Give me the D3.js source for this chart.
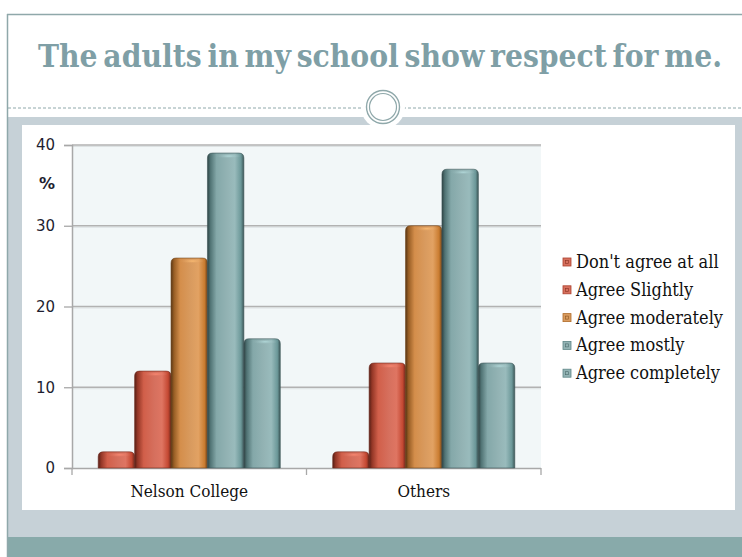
<!DOCTYPE html>
<html><head><meta charset="utf-8">
<script src="https://cdn.jsdelivr.net/npm/d3@7"></script>
<style>html,body{margin:0;padding:0;background:#fff;}svg{display:block;}</style>
</head><body>
<script>
const title = "The adults in my school show respect for me.";
const categories = ["Nelson College", "Others"];
const seriesNames = ["Don't agree at all", "Agree Slightly", "Agree moderately", "Agree mostly", "Agree completely"];
const nelsonValues = [2, 12, 26, 39, 16];
const othersValues = [2, 13, 30, 37, 13];
const yTicks = [0, 10, 20, 30, 40];
const yUnit = "%";
const seriesColors = ["#d6705e", "#d6705e", "#d99b5f", "#93b3b4", "#93b3b4"];

const W = 742, H = 557;
const svg = d3.select("body").append("svg").attr("width", W).attr("height", H);
const defs = svg.append("defs");
const serif = "'DejaVu Serif Condensed', 'DejaVu Serif', serif";

// ---- slide frame ----
const frameCol = "#8fa8aa";
svg.append("rect").attr("x",0).attr("y",0).attr("width",W).attr("height",H).attr("fill","#fff");
svg.append("rect").attr("x",8).attr("y",117).attr("width",W-8).attr("height",420).attr("fill","#c6d1d7");
svg.append("rect").attr("x",8).attr("y",537).attr("width",W-8).attr("height",20).attr("fill","#88aaaa");
svg.append("rect").attr("x",22).attr("y",125).attr("width",713).attr("height",385).attr("fill","#fff");
svg.append("line").attr("x1",7).attr("x2",W).attr("y1",14.5).attr("y2",14.5).attr("stroke",frameCol).attr("stroke-width",1.5);
svg.append("line").attr("x1",7.5).attr("x2",7.5).attr("y1",14).attr("y2",H).attr("stroke",frameCol).attr("stroke-width",1.5);
svg.append("line").attr("x1",8).attr("x2",W).attr("y1",108).attr("y2",108)
  .attr("stroke",frameCol).attr("stroke-width",1).attr("stroke-dasharray","3,2");
// ornament circle
svg.append("circle").attr("cx",383).attr("cy",107).attr("r",22).attr("fill","#fff");
svg.append("circle").attr("cx",383).attr("cy",107).attr("r",16.5).attr("fill","none").attr("stroke",frameCol).attr("stroke-width",1.4);
svg.append("circle").attr("cx",383).attr("cy",107).attr("r",13.5).attr("fill","none").attr("stroke",frameCol).attr("stroke-width",1.2);

// title
svg.append("text").attr("x",380).attr("y",67).attr("text-anchor","middle")
  .attr("font-family",serif).attr("font-weight","bold").attr("font-size",31)
  .attr("word-spacing",-4)
  .attr("fill","#7f9fa6").attr("textLength",684).attr("lengthAdjust","spacingAndGlyphs")
  .text(title);

// ---- chart ----
const plot = {left:72, right:541, top:145, bottom:468};
const y = d3.scaleLinear().domain([0,40]).range([plot.bottom, plot.top]);
const x0 = d3.scaleBand().domain(categories).range([plot.left, plot.right]).padding(0);
const x1 = d3.scaleBand().domain(seriesNames).range([0, x0.bandwidth()]).paddingInner(0).paddingOuter(0.72);

svg.append("rect").attr("x",plot.left).attr("y",plot.top).attr("width",plot.right-plot.left)
  .attr("height",plot.bottom-plot.top).attr("fill","#f2f7f8");

// gridlines
yTicks.filter(t=>t>0).forEach(t=>{
  svg.append("line").attr("x1",plot.left).attr("x2",plot.right).attr("y1",y(t)+1.5).attr("y2",y(t)+1.5)
    .attr("stroke","#dde2e3").attr("stroke-width",1);
  svg.append("line").attr("x1",plot.left).attr("x2",plot.right).attr("y1",y(t)).attr("y2",y(t))
    .attr("stroke","#b2b2b2").attr("stroke-width",1.3);
});

// axes
const yAxis = d3.axisLeft(y).tickValues(yTicks).tickSize(8).tickPadding(9);
const gy = svg.append("g").attr("transform",`translate(${plot.left},0)`).call(yAxis);
gy.select(".domain").attr("stroke","#a8a8a8").attr("stroke-width",1.5);
gy.selectAll(".tick line").attr("stroke","#a8a8a8").attr("stroke-width",1.3);
gy.selectAll(".tick text").attr("font-family","DejaVu Sans").attr("font-size",15).attr("fill","#1e1e30");

svg.append("text").attr("x",47).attr("y",189).attr("text-anchor","middle")
  .attr("font-family","DejaVu Sans").attr("font-weight","bold").attr("font-size",16).attr("fill","#1e1e30").text(yUnit);

// bottom axis
svg.append("line").attr("x1",plot.left).attr("x2",plot.right).attr("y1",plot.bottom+0.5).attr("y2",plot.bottom+0.5)
  .attr("stroke","#a8a8a8").attr("stroke-width",1.5);
const catEdges = [plot.left].concat(categories.map(c=>x0(c)+x0.bandwidth()));
catEdges.forEach(xx=>{
  svg.append("line").attr("x1",xx).attr("x2",xx).attr("y1",plot.bottom).attr("y2",plot.bottom+7)
    .attr("stroke","#a8a8a8").attr("stroke-width",1.3);
});
svg.selectAll(".cat").data(categories).enter().append("text")
  .attr("x",d=>x0(d)+x0.bandwidth()/2).attr("y",497).attr("text-anchor","middle")
  .attr("font-family",serif).attr("font-size",17).attr("fill","#111")
  .text(d=>d);

// gradients per series
function shade(c,k){const h=d3.hsl(c); h.l=h.l*k; return h.formatHex();}
seriesColors.forEach((c,i)=>{
  const g = defs.append("linearGradient").attr("id","g"+i).attr("x1","0").attr("x2","1").attr("y1","0").attr("y2","0");
  [[0,shade(c,0.35)],[0.08,shade(c,0.6)],[0.25,shade(c,0.92)],[0.55,c],[0.75,d3.color(c).brighter(0.12).formatHex()],[0.92,shade(c,0.8)],[1,shade(c,0.45)]]
    .forEach(([o,col])=>g.append("stop").attr("offset",o).attr("stop-color",col));
  const gt = defs.append("radialGradient").attr("id","t"+i).attr("cx","0.55").attr("cy","0.5").attr("r","0.5");
  gt.append("stop").attr("offset",0).attr("stop-color",d3.color(c).brighter(0.6).formatHex()).attr("stop-opacity",0.9);
  gt.append("stop").attr("offset",1).attr("stop-color",c).attr("stop-opacity",0);
});

const data = categories.map((c,ci)=>({cat:c, values: ci===0 ? nelsonValues : othersValues}));
const groups = svg.selectAll(".grp").data(data).enter().append("g")
  .attr("transform",d=>`translate(${x0(d.cat)},0)`);

function barPath(x,yTop,w,yBot,r){
  return `M${x},${yBot} L${x},${yTop+r} Q${x},${yTop} ${x+r},${yTop} L${x+w-r},${yTop} Q${x+w},${yTop} ${x+w},${yTop+r} L${x+w},${yBot} Z`;
}
groups.each(function(d){
  const g = d3.select(this);
  d.values.forEach((v,i)=>{
    const bx = x1(seriesNames[i]), bw = x1.bandwidth();
    const yt = y(v);
    g.append("path").attr("d",barPath(bx,yt,bw,plot.bottom,5)).attr("fill",`url(#g${i})`)
      .attr("stroke",shade(seriesColors[i],0.45)).attr("stroke-width",0.6);
    g.append("ellipse").attr("cx",bx+bw*0.55).attr("cy",yt+3).attr("rx",bw*0.35).attr("ry",2.5)
      .attr("fill",`url(#t${i})`);
  });
});

// legend
const lg = svg.append("g").attr("transform","translate(563,262)");
seriesNames.forEach((s,i)=>{
  const yy = i*27.8;
  lg.append("rect").attr("x",0).attr("y",yy-4).attr("width",8).attr("height",8)
    .attr("fill",seriesColors[i]).attr("stroke",shade(seriesColors[i],0.7)).attr("stroke-width",0.8);
  lg.append("rect").attr("x",2.5).attr("y",yy-1.5).attr("width",3).attr("height",3)
    .attr("fill","none").attr("stroke",shade(seriesColors[i],0.55)).attr("stroke-width",0.6);
  lg.append("text").attr("x",13).attr("y",yy+6).attr("font-family",serif).attr("font-size",18)
    .attr("fill","#111").text(s);
});
</script>
</body></html>
